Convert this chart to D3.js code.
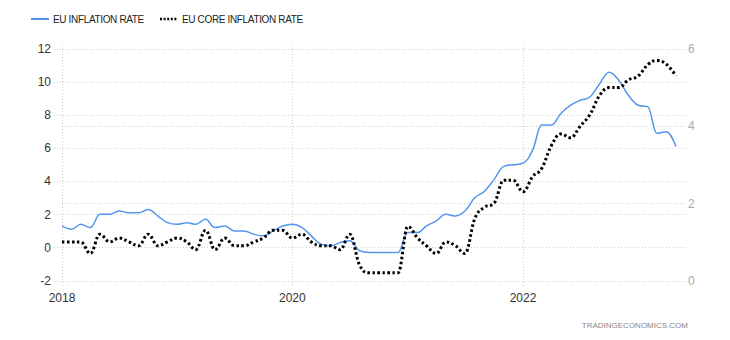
<!DOCTYPE html>
<html>
<head>
<meta charset="utf-8">
<script src="https://cdn.jsdelivr.net/npm/d3@7"></script>
<style>
  html, body { margin: 0; padding: 0; background: #fff; }
  svg { display: block; font-family: "Liberation Sans", Arial, sans-serif; }
</style>
</head>
<body>
<svg id="chart" width="730" height="340"></svg>
<script>
// Monthly series, January 2018 to May 2023 (annual % change)
const startMonth = "2018-01-01";
const inflationRate = [
  1.3, 1.1, 1.4, 1.2, 2.0, 2.0, 2.2, 2.1, 2.1, 2.3, 1.9, 1.5,
  1.4, 1.5, 1.4, 1.7, 1.2, 1.3, 1.0, 1.0, 0.8, 0.7, 1.0, 1.3,
  1.4, 1.2, 0.7, 0.2, 0.1, 0.3, 0.4, -0.2, -0.3, -0.3, -0.3, -0.3,
  0.9, 0.9, 1.3, 1.6, 2.0, 1.9, 2.2, 3.0, 3.4, 4.1, 4.9, 5.0,
  5.1, 5.9, 7.4, 7.4, 8.1, 8.6, 8.9, 9.1, 9.9, 10.6, 10.1, 9.2,
  8.6, 8.5, 6.9, 7.0, 6.1
];
const coreInflationRate = [
  1.0, 1.0, 1.0, 0.7, 1.2, 1.0, 1.1, 1.0, 0.9, 1.2, 0.9, 1.0,
  1.1, 1.0, 0.8, 1.3, 0.8, 1.1, 0.9, 0.9, 1.0, 1.1, 1.3, 1.3,
  1.1, 1.2, 1.0, 0.9, 0.9, 0.8, 1.2, 0.4, 0.2, 0.2, 0.2, 0.2,
  1.4, 1.1, 0.9, 0.7, 1.0, 0.9, 0.7, 1.6, 1.9, 2.0, 2.6, 2.6,
  2.3, 2.7, 2.9, 3.5, 3.8, 3.7, 4.0, 4.3, 4.8, 5.0, 5.0, 5.2,
  5.3, 5.6, 5.7, 5.6, 5.3
];
const leftTicks = [-2, 0, 2, 4, 6, 8, 10, 12];
const rightTicks = [0, 2, 4, 6];
const yearTicks = ["2018-01-01", "2020-01-01", "2022-01-01"];
const seriesNames = ["EU INFLATION RATE", "EU CORE INFLATION RATE"];
const sourceLabel = "TRADINGECONOMICS.COM";

const svg = d3.select("#chart");
const blue = "#5596ec";
const gridColor = "#cfcfcf";

const t0 = new Date(startMonth);
const dateAt = i => d3.utcMonth.offset(t0, i);

const x = d3.scaleUtc()
  .domain([new Date(yearTicks[0]), new Date(yearTicks[2])])
  .range([62, 523]);
const yLeft = d3.scaleLinear().domain([-2, 12]).range([280.5, 49]);
const yRight = d3.scaleLinear().domain([0, 6]).range([280.5, 49]);

// Smooth spline: handles 0.4 of the gap, levelled where they would overshoot a neighbour
function smoothSpline(context) {
  let pts;
  return {
    areaStart() {}, areaEnd() {},
    lineStart() { pts = []; },
    point(px, py) { pts.push([+px, +py]); },
    lineEnd() {
      const n = pts.length;
      if (!n) return;
      const ctl = pts.map((p, i) => {
        if (i === 0 || i === n - 1) return { lx: p[0], ly: p[1], rx: p[0], ry: p[1] };
        const [lx0, ly0] = pts[i - 1], [px, py] = p, [nx, ny] = pts[i + 1];
        const s = 1.5, den = s + 1;
        const lcx = (s * px + lx0) / den, rcx = (s * px + nx) / den;
        let lcy = (s * py + ly0) / den, rcy = (s * py + ny) / den;
        const corr = ((rcy - lcy) * (rcx - px)) / (rcx - lcx) + py - rcy;
        lcy += corr; rcy += corr;
        if (lcy > ly0 && lcy > py) { lcy = Math.max(ly0, py); rcy = 2 * py - lcy; }
        else if (lcy < ly0 && lcy < py) { lcy = Math.min(ly0, py); rcy = 2 * py - lcy; }
        if (rcy > ny && rcy > py) { rcy = Math.max(ny, py); lcy = 2 * py - rcy; }
        else if (rcy < ny && rcy < py) { rcy = Math.min(ny, py); lcy = 2 * py - rcy; }
        return { lx: lcx, ly: lcy, rx: rcx, ry: rcy };
      });
      context.moveTo(pts[0][0], pts[0][1]);
      for (let i = 1; i < n; i++) {
        context.bezierCurveTo(ctl[i - 1].rx, ctl[i - 1].ry, ctl[i].lx, ctl[i].ly, pts[i][0], pts[i][1]);
      }
    }
  };
}

const gridL = 54, gridR = 685;

// horizontal grid for the left axis
const grid = svg.append("g")
  .attr("stroke", gridColor)
  .attr("stroke-dasharray", "1,2")
  .attr("fill", "none");
grid.selectAll("line.hl").data(leftTicks).join("line")
  .attr("class", "hl")
  .attr("x1", gridL).attr("x2", gridR)
  .attr("y1", d => Math.round(yLeft(d)) + 0.5)
  .attr("y2", d => Math.round(yLeft(d)) + 0.5);
// extra grid lines of the right axis
grid.selectAll("line.hr").data(rightTicks.filter(d => d > 0 && d < 6)).join("line")
  .attr("class", "hr")
  .attr("x1", x(new Date(yearTicks[0]))).attr("x2", gridR)
  .attr("y1", d => Math.round(yRight(d)) + 0.5)
  .attr("y2", d => Math.round(yRight(d)) + 0.5);
// vertical year grid
grid.selectAll("line.v").data(yearTicks).join("line")
  .attr("class", "v")
  .attr("x1", d => Math.round(x(new Date(d))) + 0.5)
  .attr("x2", d => Math.round(x(new Date(d))) + 0.5)
  .attr("y1", 45).attr("y2", 287);

// left axis labels
svg.append("g").selectAll("text").data(leftTicks).join("text")
  .attr("x", 51).attr("y", d => yLeft(d))
  .attr("dy", "0.35em")
  .attr("text-anchor", "end")
  .attr("font-size", 12)
  .attr("fill", "#333")
  .text(d => d);

// right axis labels
svg.append("g").selectAll("text").data(rightTicks).join("text")
  .attr("x", 688).attr("y", d => yRight(d))
  .attr("dy", "0.35em")
  .attr("font-size", 12)
  .attr("fill", "#aaa")
  .text(d => d);

// year labels
svg.append("g").selectAll("text").data(yearTicks).join("text")
  .attr("x", d => x(new Date(d))).attr("y", 302)
  .attr("text-anchor", "middle")
  .attr("font-size", 12)
  .attr("fill", "#333")
  .text(d => d.slice(0, 4));

// series lines
const lineLeft = d3.line()
  .x((d, i) => x(dateAt(i)))
  .y(d => yLeft(d))
  .curve(smoothSpline);
const lineRight = d3.line()
  .x((d, i) => x(dateAt(i)))
  .y(d => yRight(d))
  .curve(smoothSpline);

svg.append("path")
  .datum(inflationRate)
  .attr("fill", "none")
  .attr("stroke", blue)
  .attr("stroke-width", 1.5)
  .attr("d", lineLeft);

svg.append("path")
  .datum(coreInflationRate)
  .attr("fill", "none")
  .attr("stroke", "#000")
  .attr("stroke-width", 3)
  .attr("stroke-dasharray", "2.5,2.5")
  .attr("d", lineRight);

// legend
const legend = svg.append("g").attr("font-size", 10).attr("fill", "#222")
  .attr("letter-spacing", "-0.35px");
legend.append("line").attr("x1", 31).attr("x2", 49).attr("y1", 19).attr("y2", 19)
  .attr("stroke", blue).attr("stroke-width", 2);
legend.append("text").attr("x", 53).attr("y", 23).text(seriesNames[0]);
legend.append("line").attr("x1", 160).attr("x2", 178).attr("y1", 19).attr("y2", 19)
  .attr("stroke", "#000").attr("stroke-width", 2.5).attr("stroke-dasharray", "2,1.6");
legend.append("text").attr("x", 182).attr("y", 23).text(seriesNames[1]);

// source
svg.append("text")
  .attr("x", 688).attr("y", 328)
  .attr("text-anchor", "end")
  .attr("font-size", 8)
  .attr("fill", "#888")
  .text(sourceLabel);
</script>
</body>
</html>
